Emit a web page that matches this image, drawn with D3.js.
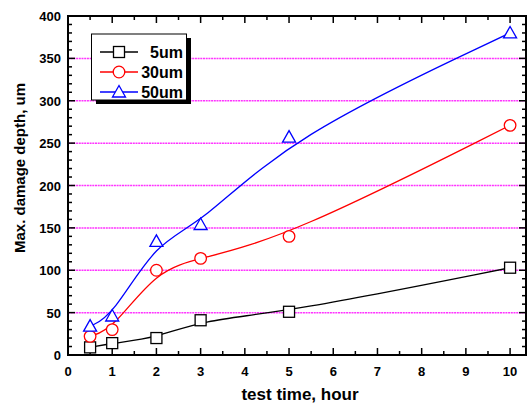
<!DOCTYPE html>
<html>
<head>
<script src="https://d3js.org/d3.v7.min.js"></script>
<style>
  body { margin: 0; background: #fff; }
  svg { display: block; font-family: Arial, "Liberation Sans", sans-serif; }
</style>
</head>
<body>
<div id="chart"></div>
<script>
// data
var hours = [0.5, 1, 2, 3, 5, 10];
var depth5 = [9, 14, 20, 41, 51, 103];
var depth30 = [22, 30, 100, 114, 140, 271];
var depth50 = [34, 46, 134, 154, 257, 380];
var seriesNames = ["5um", "30um", "50um"];
var seriesColors = ["#000000", "#ff0000", "#0000ff"];
var xTicks = [0, 1, 2, 3, 4, 5, 6, 7, 8, 9, 10];
var yTicks = [0, 50, 100, 150, 200, 250, 300, 350, 400];
var gridValues = [50, 100, 150, 200, 250, 300, 350];

var width = 528, height = 407;
var plotL = 68, plotR = 526, plotT = 16, plotB = 355;

var svg = d3.select("#chart").append("svg")
  .attr("width", width).attr("height", height);

var x = d3.scaleLinear().domain([0, 10.36]).range([plotL, plotR]);
var y = d3.scaleLinear().domain([0, 400]).range([plotB, plotT]);

// magenta dotted grid
svg.append("g").selectAll("line").data(gridValues).enter().append("line")
  .attr("x1", plotL).attr("x2", plotR)
  .attr("y1", d => y(d)).attr("y2", d => y(d))
  .attr("stroke", "#ff33ff").attr("stroke-width", 1.5)
  .attr("stroke-dasharray", "2,0.7");

// frame
svg.append("rect")
  .attr("x", plotL).attr("y", plotT)
  .attr("width", plotR - plotL).attr("height", plotB - plotT)
  .attr("fill", "none").attr("stroke", "#000").attr("stroke-width", 2);

// ticks (inward)
var ax = svg.append("g");
d3.range(0, 10.01, 0.5).forEach(function (v) {
  var major = Math.abs(v - Math.round(v)) < 1e-6;
  var len = major ? 7 : 4;
  ax.append("line").attr("x1", x(v)).attr("x2", x(v))
    .attr("y1", plotB).attr("y2", plotB - len)
    .attr("stroke", "#000").attr("stroke-width", 1.5);
  ax.append("line").attr("x1", x(v)).attr("x2", x(v))
    .attr("y1", plotT).attr("y2", plotT + len)
    .attr("stroke", "#000").attr("stroke-width", 1.5);
});
d3.range(0, 401, 10).forEach(function (v) {
  var major = v % 50 === 0;
  var len = major ? 7 : 4;
  ax.append("line").attr("x1", plotL).attr("x2", plotL + len)
    .attr("y1", y(v)).attr("y2", y(v))
    .attr("stroke", "#000").attr("stroke-width", 1.5);
  ax.append("line").attr("x1", plotR).attr("x2", plotR - len)
    .attr("y1", y(v)).attr("y2", y(v))
    .attr("stroke", "#000").attr("stroke-width", 1.5);
});

// tick labels
svg.append("g").selectAll("text").data(xTicks).enter().append("text")
  .attr("x", d => x(d)).attr("y", plotB + 21)
  .attr("text-anchor", "middle")
  .attr("font-size", 13).attr("font-weight", "bold")
  .text(d => d);
svg.append("g").selectAll("text").data(yTicks).enter().append("text")
  .attr("x", plotL - 7).attr("y", d => y(d) + 5)
  .attr("text-anchor", "end")
  .attr("font-size", 13).attr("font-weight", "bold")
  .text(d => d);

// axis titles
svg.append("text")
  .attr("x", 300).attr("y", 400)
  .attr("text-anchor", "middle")
  .attr("font-size", 17).attr("font-weight", "bold")
  .text("test time, hour");
svg.append("text")
  .attr("transform", "translate(25,168) rotate(-90)")
  .attr("text-anchor", "middle")
  .attr("font-size", 15).attr("font-weight", "bold")
  .text("Max. damage depth, um");

// curves
var allSeries = [depth5, depth30, depth50];
var line = d3.line().x(d => x(d[0])).y(d => y(d[1])).curve(d3.curveBasis);

allSeries.forEach(function (vals, i) {
  var pts = hours.map((h, j) => [h, vals[j]]);
  svg.append("path").datum(pts)
    .attr("d", line)
    .attr("fill", "none")
    .attr("stroke", seriesColors[i]).attr("stroke-width", 1.3);
});

function drawMarker(g, kind, cx, cy, color) {
  if (kind === 0) {
    g.append("rect").attr("x", cx - 5.5).attr("y", cy - 5.5)
      .attr("width", 11).attr("height", 11)
      .attr("fill", "#fff").attr("stroke", color).attr("stroke-width", 1.3);
  } else if (kind === 1) {
    g.append("circle").attr("cx", cx).attr("cy", cy).attr("r", 5.8)
      .attr("fill", "#fff").attr("stroke", color).attr("stroke-width", 1.3);
  } else {
    g.append("path")
      .attr("d", "M" + cx + "," + (cy - 6.5) + "L" + (cx + 6.5) + "," + (cy + 5) + "L" + (cx - 6.5) + "," + (cy + 5) + "Z")
      .attr("fill", "#fff").attr("stroke", color).attr("stroke-width", 1.3);
  }
}

var marks = svg.append("g");
allSeries.forEach(function (vals, i) {
  hours.forEach(function (h, j) {
    drawMarker(marks, i, x(h), y(vals[j]), seriesColors[i]);
  });
});

// legend with shadow
var lg = svg.append("g");
lg.append("rect").attr("x", 96).attr("y", 38).attr("width", 95).attr("height", 66).attr("fill", "#000");
lg.append("rect").attr("x", 91.5).attr("y", 34).attr("width", 95).attr("height", 66)
  .attr("fill", "#fff").attr("stroke", "#000").attr("stroke-width", 1);
seriesNames.forEach(function (name, i) {
  var ly = 52 + i * 20;
  lg.append("line").attr("x1", 100).attr("x2", 138).attr("y1", ly).attr("y2", ly)
    .attr("stroke", seriesColors[i]).attr("stroke-width", 1.3);
  drawMarker(lg, i, 119, ly, seriesColors[i]);
  lg.append("text").attr("x", 183).attr("y", ly + 6)
    .attr("text-anchor", "end")
    .attr("font-size", 16).attr("font-weight", "bold")
    .text(name);
});
</script>
</body>
</html>
